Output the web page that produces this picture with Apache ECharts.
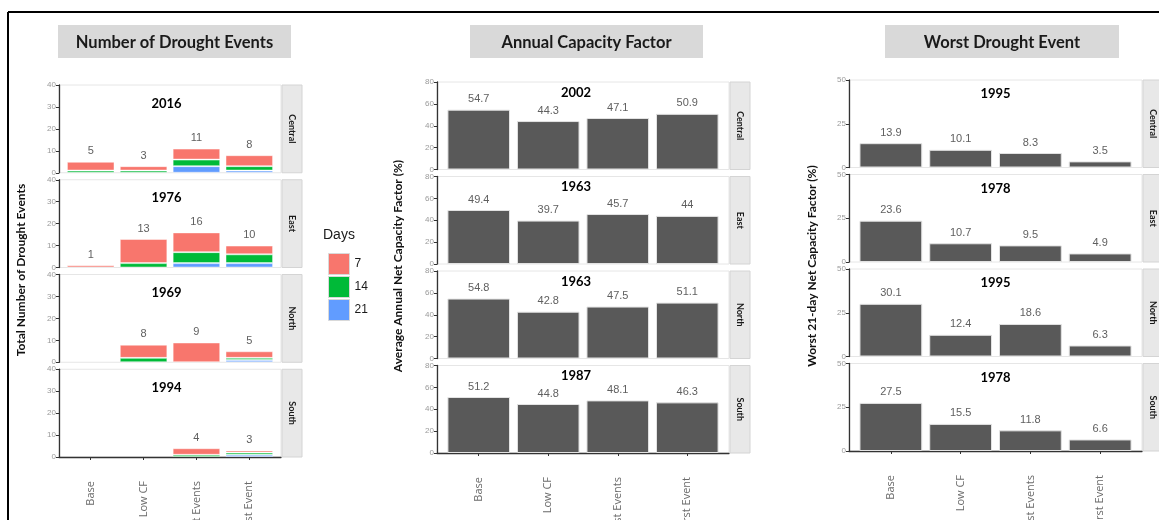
<!DOCTYPE html>
<html>
<head>
<meta charset="utf-8">
<script src="https://cdn.jsdelivr.net/npm/echarts@6/dist/echarts.min.js"></script>
<style>
html,body{margin:0;padding:0;background:#fff;}
#c{width:1159px;height:520px;}
</style>
</head>
<body>
<div id="c"></div>
<script>
// ---------- DATA ----------
const categories = ['Base', 'Low CF', 'Most Events', 'Worst Event'];
const regions = ['Central', 'East', 'North', 'South'];
const dayLevels = ['7', '14', '21'];

// Number of drought events by duration (rows: Central, East, North, South)
const events7  = [[4, 2, 5, 5], [1, 11, 9, 4], [0, 6, 9, 3], [0, 0, 3, 1]];
const events14 = [[1, 1, 3, 2], [0, 2, 5, 4], [0, 2, 0, 1], [0, 0, 1, 1]];
const events21 = [[0, 0, 3, 1], [0, 0, 2, 2], [0, 0, 0, 1], [0, 0, 0, 1]];
const eventYears = ['2016', '1976', '1969', '1994'];

// Average annual net capacity factor (%)
const annualCF = [[54.7, 44.3, 47.1, 50.9], [49.4, 39.7, 45.7, 44], [54.8, 42.8, 47.5, 51.1], [51.2, 44.8, 48.1, 46.3]];
const annualYears = ['2002', '1963', '1963', '1987'];

// Worst 21-day net capacity factor (%)
const worstCF = [[13.9, 10.1, 8.3, 3.5], [23.6, 10.7, 9.5, 4.9], [30.1, 12.4, 18.6, 6.3], [27.5, 15.5, 11.8, 6.6]];
const worstYears = ['1995', '1978', '1995', '1978'];

const panelTitles = ['Number of Drought Events', 'Annual Capacity Factor', 'Worst Drought Event'];
const axisTitles = ['Total Number of Drought Events', 'Average Annual Net Capacity Factor (%)', 'Worst 21-day Net Capacity Factor (%)'];

// ---------- LAYOUT ----------
const cols = [
  {left: 59, right: 281, top: 85, bottom: 457, max: 40, interval: 10, yearDx: -3.5, yearDy: 18.5, box: [58, 25, 233, 33], yt: [21, 270], years: eventYears},
  {left: 437, right: 729, top: 82, bottom: 453, max: 80, interval: 20, yearDx: -7, yearDy: 10.5, box: [470, 25, 233, 33], yt: [398, 266], years: annualYears},
  {left: 849, right: 1142, top: 80, bottom: 451, max: 50, interval: 25, yearDx: 0, yearDy: 14, box: [885, 25, 234, 33], yt: [812, 266], years: worstYears}
];
const GAP = 7;
const STRIP = 20;
const colors = {'7': '#F8766D', '14': '#00BA38', '21': '#619CFF'};
const darkBar = '#595959';
const axisColor = '#333333';

const grids = [], xAxes = [], yAxes = [], series = [], graphics = [];

// frame
graphics.push({type: 'line', shape: {x1: 8, y1: 12, x2: 1159, y2: 12}, style: {stroke: '#000', lineWidth: 2}, z: 10});
graphics.push({type: 'line', shape: {x1: 8, y1: 12, x2: 8, y2: 520}, style: {stroke: '#000', lineWidth: 2}, z: 10});

cols.forEach((col, c) => {
  const plotW = col.right - col.left;
  const h = (col.bottom - col.top - 3 * GAP) / 4;
  const unit = plotW / 4.2;
  const inset = 0.1 * unit;

  // title box
  graphics.push({type: 'rect', shape: {x: col.box[0], y: col.box[1], width: col.box[2], height: col.box[3]}, style: {fill: '#d9d9d9'}});
  graphics.push({type: 'text', x: col.box[0] + col.box[2] / 2, y: col.box[1] + col.box[3] / 2 + 1,
    style: {text: panelTitles[c], font: 'bold 16.5px Lato', fill: '#1a1a1a', textAlign: 'center', textVerticalAlign: 'middle'}});
  // y title
  graphics.push({type: 'text', x: col.yt[0], y: col.yt[1], rotation: Math.PI / 2,
    style: {text: axisTitles[c], font: 'bold 12px Lato', fill: '#111', textAlign: 'center', textVerticalAlign: 'middle'}});

  regions.forEach((reg, r) => {
    const top = col.top + r * (h + GAP);
    const gi = grids.length;
    const bottomPanel = r === 3;
    // outer panel grid (border + axes)
    grids.push({left: col.left, top: top, width: plotW, height: h, show: true, borderColor: '#e6e6e6', borderWidth: 1,
      backgroundColor: '#fff', containLabel: false, outerBoundsMode: 'none'});
    // inner grid for bars (ggplot-like expansion)
    grids.push({left: col.left + inset, top: top, width: plotW - 2 * inset, height: h, containLabel: false, outerBoundsMode: 'none'});

    xAxes.push({gridIndex: gi, type: 'value', min: 0, max: 1, show: bottomPanel,
      axisLine: {show: true, onZero: false, lineStyle: {color: axisColor, width: 1.3}},
      axisTick: {show: false}, axisLabel: {show: false}, splitLine: {show: false}});
    yAxes.push({gridIndex: gi, type: 'value', min: 0, max: col.max, interval: col.interval,
      axisLine: {show: true, lineStyle: {color: axisColor, width: 1.3}},
      axisTick: {show: true, length: 3, lineStyle: {color: axisColor}},
      axisLabel: {fontSize: 8, color: '#9a9a9a', margin: 3, fontFamily: 'Liberation Sans'},
      splitLine: {show: false}});

    xAxes.push({gridIndex: gi + 1, type: 'category', data: categories, show: true,
      axisLine: {show: false},
      axisTick: {show: bottomPanel, alignWithLabel: true, length: 3, lineStyle: {color: axisColor}},
      axisLabel: {show: bottomPanel, rotate: 90, interval: 0, margin: 24, fontSize: 11, color: '#6b6b6b', fontFamily: 'Open Sans'},
      splitLine: {show: false}});
    yAxes.push({gridIndex: gi + 1, type: 'value', min: 0, max: col.max, show: false, splitLine: {show: false}});

    const labelStyle = {show: true, position: 'top', distance: 5, fontSize: 11, color: '#5f5f5f', fontFamily: 'Liberation Sans'};

    if (c === 0) {
      const totals = categories.map((_, i) => events7[r][i] + events14[r][i] + events21[r][i]);
      [['21', events21], ['14', events14], ['7', events7]].forEach(([name, arr]) => {
        series.push({type: 'bar', name: name, xAxisIndex: gi + 1, yAxisIndex: gi + 1, stack: 'p' + gi,
          // zero-count segments are not drawn (as in the reference)
          data: arr[r].map(v => (v === 0 ? '-' : v)),
          barWidth: '90%', itemStyle: {color: colors[name], borderColor: 'rgba(255,255,255,0.45)', borderWidth: 1},
          label: name === '7' ? Object.assign({}, labelStyle, {formatter: p => totals[p.dataIndex] ? String(totals[p.dataIndex]) : ''}) : {show: false},
          emphasis: {disabled: true}, animation: false});
      });
    } else {
      const arr = c === 1 ? annualCF : worstCF;
      series.push({type: 'bar', name: 'cf' + c, xAxisIndex: gi + 1, yAxisIndex: gi + 1,
        data: arr[r], barWidth: '90%', itemStyle: {color: darkBar, borderColor: '#e3e3e3', borderWidth: 1},
        label: Object.assign({}, labelStyle, {formatter: p => String(p.value)}),
        emphasis: {disabled: true}, animation: false});
    }

    // strip
    graphics.push({type: 'rect', shape: {x: col.right + 1, y: top, width: STRIP, height: h},
      style: {fill: '#e8e8e8', stroke: '#d4d4d4', lineWidth: 1}});
    graphics.push({type: 'text', x: col.right + 1 + STRIP / 2, y: top + h / 2, rotation: -Math.PI / 2,
      style: {text: reg, font: 'bold 9px Lato', fill: '#1a1a1a', textAlign: 'center', textVerticalAlign: 'middle'}});
    // year annotation
    graphics.push({type: 'text', x: col.left + plotW / 2 + col.yearDx, y: top + col.yearDy,
      style: {text: col.years[r], font: 'bold 13px Lato', fill: '#000', textAlign: 'center', textVerticalAlign: 'middle'}, z: 20});
  });
});

// legend title
graphics.push({type: 'text', x: 323, y: 235, style: {text: 'Days', font: '14px "Liberation Sans"', fill: '#1a1a1a', textAlign: 'left', textVerticalAlign: 'middle'}});

const chart = echarts.init(document.getElementById('c'));
chart.setOption({
  animation: false,
  grid: grids,
  xAxis: xAxes,
  yAxis: yAxes,
  series: series,
  legend: {
    data: dayLevels.map(d => ({name: d, icon: 'rect'})),
    orient: 'vertical', left: 323, top: 248,
    itemWidth: 21, itemHeight: 21, itemGap: 1,
    itemStyle: {borderColor: '#d9d9d9', borderWidth: 1},
    textStyle: {fontSize: 12, color: '#1a1a1a', fontFamily: 'Liberation Sans'},
    selectedMode: false
  },
  graphic: graphics
});
</script>
</body>
</html>
